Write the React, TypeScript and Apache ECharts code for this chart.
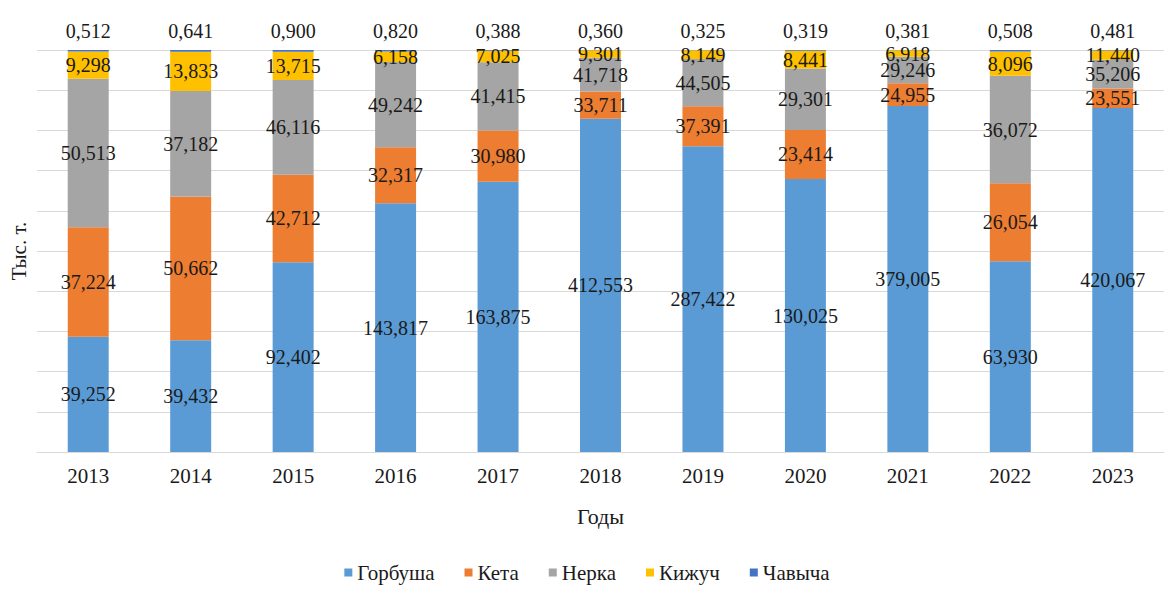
import React, { useEffect, useRef } from "react";
import * as echarts from "echarts";

const years = ["2013", "2014", "2015", "2016", "2017", "2018", "2019", "2020", "2021", "2022", "2023"];
const gorbusha = [39.252, 39.432, 92.402, 143.817, 163.875, 412.553, 287.422, 130.025, 379.005, 63.93, 420.067];
const keta = [37.224, 50.662, 42.712, 32.317, 30.98, 33.711, 37.391, 23.414, 24.955, 26.054, 23.551];
const nerka = [50.513, 37.182, 46.116, 49.242, 41.415, 41.718, 44.505, 29.301, 29.246, 36.072, 35.206];
const kizhuch = [9.298, 13.833, 13.715, 6.158, 7.025, 9.301, 8.149, 8.441, 6.918, 8.096, 11.44];
const chavycha = [0.512, 0.641, 0.9, 0.82, 0.388, 0.36, 0.325, 0.319, 0.381, 0.508, 0.481];

const seriesNames = ["Горбуша", "Кета", "Нерка", "Кижуч", "Чавыча"];
const seriesValues = [gorbusha, keta, nerka, kizhuch, chavycha];
const colors = ["#5B9BD5", "#ED7D31", "#A5A5A5", "#FFC000", "#4472C4"];

const FONT = "Liberation Serif";

export default function App() {
  const ref = useRef<HTMLDivElement>(null);
  useEffect(() => {
    if (!ref.current) return;
    const chart = echarts.init(ref.current, undefined, { renderer: "svg" });
    const totals = years.map((_, i) => seriesValues.reduce((s, arr) => s + arr[i], 0));
    const fmt = (v: number) => v.toFixed(3).replace(".", ",");
    const series = seriesValues.map((arr, si) => ({
      name: seriesNames[si],
      type: "bar",
      stack: "total",
      barWidth: "40%",
      itemStyle: { color: colors[si] },
      data: arr.map((v, i) => (v / totals[i]) * 100),
      labelLayout: { hideOverlap: false },
      label: {
        show: true,
        position: si === 4 ? "top" : "inside",
        distance: si === 4 ? 9 : 5,
        color: "#1a1a1a",
        fontFamily: FONT,
        fontSize: 20,
        formatter: (p: any) => fmt(arr[p.dataIndex]),
      },
    }));
    chart.setOption({
      animation: false,
      color: colors,
      textStyle: { fontFamily: FONT },
      grid: { left: 37, right: 10, top: 50, bottom: 137, containLabel: false },
      legend: {
        bottom: 1,
        left: "center",
        itemWidth: 8,
        itemHeight: 8,
        itemGap: 30,
        icon: "rect",
        textStyle: { fontFamily: FONT, fontSize: 21, color: "#1a1a1a" },
        data: seriesNames,
      },
      xAxis: {
        type: "category",
        data: years,
        name: "Годы",
        nameLocation: "middle",
        nameGap: 53,
        nameTextStyle: { fontFamily: FONT, fontSize: 22, color: "#1a1a1a" },
        axisLine: { lineStyle: { color: "#d9d9d9" } },
        axisTick: { show: false },
        axisLabel: { fontFamily: FONT, fontSize: 21, color: "#1a1a1a", margin: 13 },
      },
      yAxis: {
        type: "value",
        min: 0,
        max: 100,
        interval: 10,
        name: "Тыс. т.",
        nameLocation: "middle",
        nameGap: 8,
        nameTextStyle: { fontFamily: FONT, fontSize: 21, color: "#1a1a1a" },
        axisLabel: { show: false },
        axisLine: { show: false },
        axisTick: { show: false },
        splitLine: { lineStyle: { color: "#d9d9d9" } },
      },
      series,
    });
    return () => chart.dispose();
  }, []);
  return <div ref={ref} style={{ width: 1174, height: 589, position: "absolute", left: 0, top: 0, background: "#fff" }} />;
}
